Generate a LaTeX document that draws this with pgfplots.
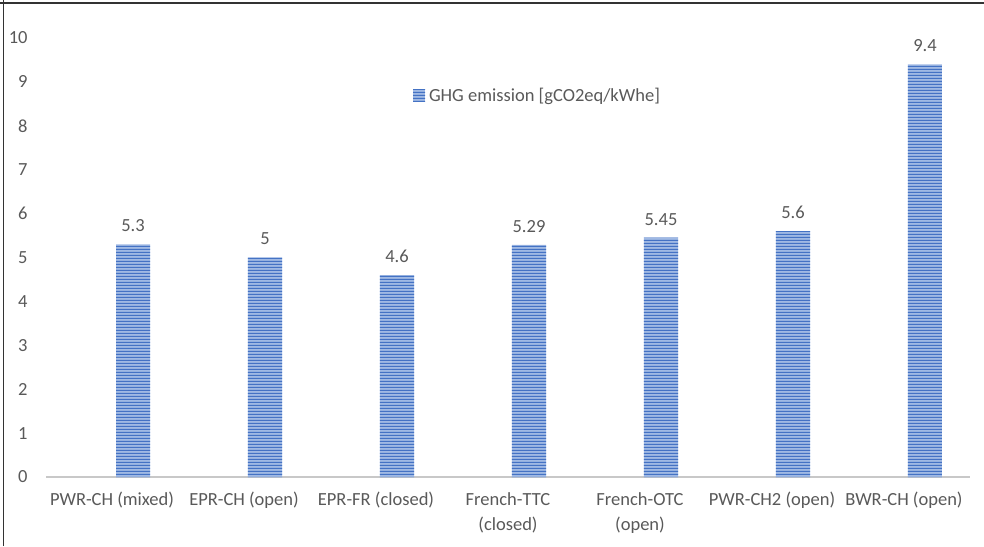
\documentclass[border=0pt]{standalone}
\usepackage{fontspec}
\setmainfont{Carlito}
\usepackage{pgfplots}
\pgfplotsset{compat=1.18}
\usetikzlibrary{patterns}
\definecolor{txtgray}{RGB}{89,89,89}
\definecolor{barlight}{RGB}{160,185,228}
\definecolor{bardark}{RGB}{68,114,196}
\definecolor{axgray}{RGB}{200,200,200}
\newcommand{\chartfont}{\fontsize{9.25}{12.5}\selectfont}
% tile wider than the picture so that only horizontal stripes show
\pgfdeclarepatternformonly{hstripes}{\pgfpoint{0pt}{0pt}}{\pgfpoint{600pt}{1.5pt}}{\pgfpoint{600pt}{1.5pt}}{%
  \pgfpathrectangle{\pgfpoint{0pt}{0pt}}{\pgfpoint{600pt}{0.75pt}}\pgfusepath{fill}}

\begin{document}
\begin{tikzpicture}
\useasboundingbox (0,0) rectangle (492pt,273pt);
% frame (top and left edges only)
\draw[line width=0.75pt, black!80] (0,271.5pt) -- (492pt,271.5pt);
\draw[line width=0.75pt, black!80] (1.75pt,0) -- (1.75pt,273pt);
\begin{axis}[
    at={(23pt,34.5pt)}, anchor=south west,
    scale only axis, width=462pt, height=219.5pt,
    xmin=-0.5, xmax=6.5, ymin=0, ymax=10,
    ybar, bar width=17pt, bar shift=10.5pt,
    axis x line*=bottom, axis y line*=left,
    x axis line style={draw=axgray, line width=1.25pt},
    y axis line style={draw=none},
    xtick={0,...,6}, ytick={0,...,10},
    major tick length=0pt,
    xticklabels={PWR-CH (mixed), EPR-CH (open), EPR-FR (closed), {French-TTC\\(closed)}, {French-OTC\\(open)}, PWR-CH2 (open), BWR-CH (open)},
    xticklabel style={font=\chartfont, text=txtgray, align=center, anchor=north, inner sep=0pt, yshift=-7.5pt},
    yticklabel style={font=\chartfont, text=txtgray, anchor=east, inner sep=0pt, xshift=-9pt},
    /pgf/number format/assume math mode=true,
    nodes near coords,
    nodes near coords style={font=\chartfont, text=txtgray, anchor=south, inner sep=0pt, yshift=6pt, /pgf/number format/assume math mode=true},
    legend style={at={(0.533,0.868)}, anchor=center, draw=none, fill=none, font=\chartfont, text=txtgray, inner sep=0pt},
    legend image code/.code={\draw[#1, draw=none] (0pt,-3pt) rectangle (6pt,3pt);},
]
\addplot[fill=barlight, draw=none, postaction={pattern=hstripes, pattern color=bardark}]
    coordinates {(0,5.3) (1,5) (2,4.6) (3,5.29) (4,5.45) (5,5.6) (6,9.4)};
\legend{GHG emission [gCO2eq/kWhe]}
\end{axis}
\end{tikzpicture}
\end{document}
